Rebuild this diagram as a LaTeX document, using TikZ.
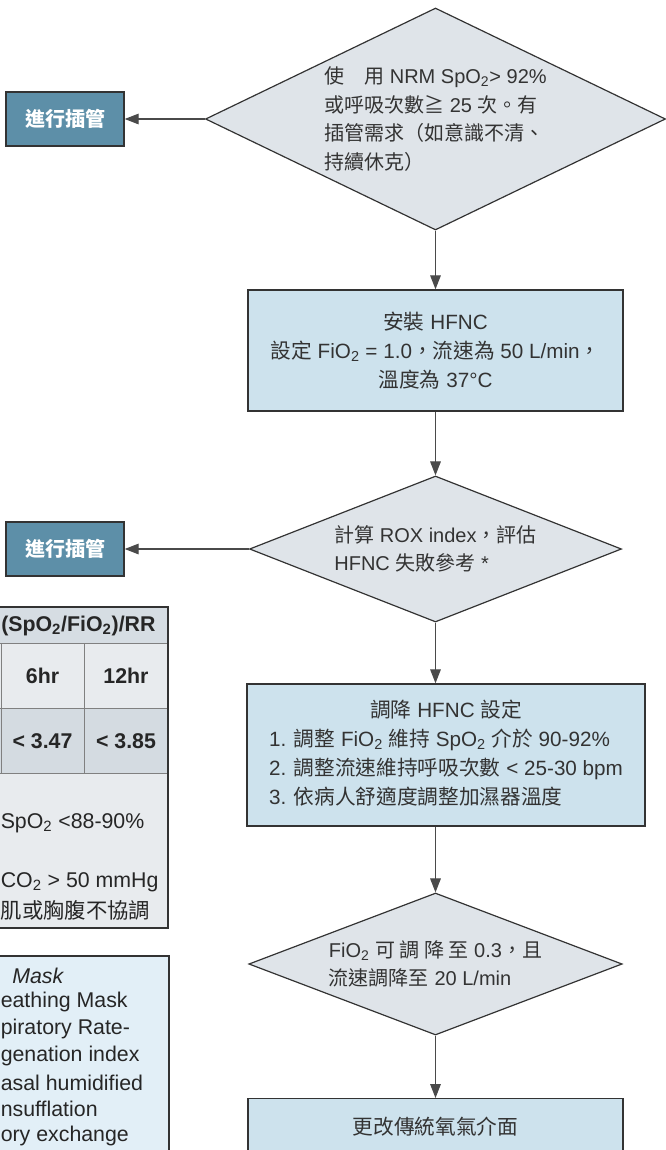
\documentclass[tikz,border=0pt]{standalone}
\usepackage{fontspec}
\setmainfont{Liberation Sans}
\newfontfamily\zhfont{Noto Sans CJK TC}
\newcommand{\zh}[1]{{\zhfont #1}}
\newcommand{\two}{\textsubscript{2}}
\usetikzlibrary{arrows.meta}
\usetikzlibrary{shapes.geometric}
\definecolor{ink}{HTML}{333333}
\definecolor{wire}{HTML}{4a4a4a}
\definecolor{decfill}{HTML}{DFE4E9}
\definecolor{actfill}{HTML}{CDE2ED}
\definecolor{tubefill}{HTML}{5D8FA8}
\definecolor{hdrfill}{HTML}{D6DDE3}
\definecolor{rowfill}{HTML}{E8EBEE}
\definecolor{valfill}{HTML}{D4DBE1}
\definecolor{notefill}{HTML}{E2EFF7}
\tikzset{tx/.style={font=\fontsize{15}{21.4}\selectfont, text=ink}}
\tikzset{tb/.style={font=\fontsize{16}{19}\selectfont\bfseries, text=black!85, inner sep=0pt}}
\tikzset{tn/.style={font=\fontsize{16}{19}\selectfont, text=black!85, inner sep=0pt}}
\tikzset{dec/.style={tx, diamond, draw=ink, line width=0.9pt, fill=decfill, inner sep=0pt, align=left}}
\tikzset{act/.style={tx, font=\fontsize{15.5}{21.8}\selectfont, rectangle, draw=ink, line width=1.1pt, fill=actfill, align=center}}
\tikzset{tube/.style={rectangle, draw=ink, line width=1.1pt, fill=tubefill, text=white, font=\fontsize{15}{18}\selectfont\bfseries, minimum width=88.5pt, minimum height=40.5pt}}
\tikzset{flow/.style={draw=wire, line width=0.8pt, -{Triangle[width=8pt,length=10.5pt]}}}

\begin{document}
\begin{tikzpicture}[x=0.75pt, y=-0.75pt]
\useasboundingbox (0,0) rectangle (665,1150);
% main column
\node[dec, aspect=2.07, minimum width=345pt, minimum height=166.5pt] (ask) at (435.5,119)
  {\zh{使　用} NRM SpO\two> 92\%\\\zh{或呼吸次數≧} 25 \zh{次。有}\\\zh{插管需求（如意識不清、}\\\zh{持續休克）}};
\node[tube] (tube1) at (65,119) {\zh{進行插管}};
\node[act, minimum width=281.25pt, minimum height=90.75pt] (hfnc) at (435.5,350.5)
  {\zh{安裝} HFNC\\\zh{設定} FiO\two{} = 1.0\zh{，流速為} 50 L/min\zh{，}\\\zh{溫度為} 37°C};
\node[dec, aspect=2.55, minimum width=279pt, minimum height=109.5pt] (rox) at (435.5,549)
  {\zh{計算} ROX index\zh{，評估}\\HFNC \zh{失敗參考} *};
\node[tube] (tube2) at (65,549) {\zh{進行插管}};
\node[act, minimum width=298.5pt, minimum height=106.5pt] (wean) at (446,755)
  {\begin{tabular}{@{}l@{}}
   \multicolumn{1}{@{}c@{}}{\zh{調降} HFNC \zh{設定}}\\
   1. \zh{調整} FiO\two{} \zh{維持} SpO\two{} \zh{介於} 90-92\%\\
   2. \zh{調整流速維持呼吸次數} < 25-30 bpm\\
   3. \zh{依病人舒適度調整加濕器溫度}
   \end{tabular}};
\node[dec, aspect=2.63, minimum width=280pt, minimum height=106.5pt] (fio) at (435.5,964)
  {FiO\two{} \zh{可 調 降 至} 0.3\zh{，且}\\\zh{流速調降至} 20 L/min};
\node[act, anchor=north, minimum width=281.25pt, text height=21pt, text depth=60pt, inner ysep=6pt] (conv) at (435.5,1098)
  {\zh{更改傳統氧氣介面}};

\draw[flow] (ask.west) -- (tube1.east);
\draw[flow] (ask.south) -- (hfnc.north);
\draw[flow] (hfnc.south) -- (rox.north);
\draw[flow] (rox.west) -- (tube2.east);
\draw[flow] (rox.south) -- (rox.south |- wean.north);
\draw[flow] (wean.south -| fio.north) -- (fio.north);
\draw[flow] (fio.south) -- (conv.north);

% ROX table (cut at the left edge)
\fill[hdrfill] (-20,607) rectangle (168,643);
\fill[rowfill] (-20,643) rectangle (168,708);
\fill[valfill] (-20,708) rectangle (168,773);
\fill[rowfill] (-20,773) rectangle (168,928);
\draw[black!50, line width=0.6pt] (-20,643) -- (168,643) (-20,708) -- (168,708) (-20,773) -- (168,773);
\draw[black!50, line width=0.6pt] (1,643) -- (1,773) (84,643) -- (84,773);
\draw[ink, line width=1pt] (-20,607) -- (168,607) -- (168,928) -- (-20,928);
\node[tb, anchor=west] (roxhead) at (1,626) {(SpO\two/FiO\two)/RR};
\node[tb] (h6) at (42.5,676) {6hr};
\node[tb] (h12) at (126,676) {12hr};
\node[tb] (v6) at (42.5,741) {< 3.47};
\node[tb] (v12) at (126,741) {< 3.85};
\node[tn, anchor=west] (cue1) at (0.5,823) {SpO\two{} <88-90\%};
\node[tn, anchor=west] (cue2) at (0.5,882) {CO\two{} > 50 mmHg};
\node[tn, anchor=west] (cue3) at (0.5,910) {\zh{肌或胸腹不協調}};

% abbreviations (cut at the left edge)
\draw[ink, line width=1pt, fill=notefill] (-20,956) rectangle (169,1180);
\node[tn, anchor=west] (ab0) at (12,976) {\itshape Mask};
\node[tn, anchor=west] (ab1) at (0.5,1002) {eathing Mask};
\node[tn, anchor=west] (ab2) at (0.5,1029) {piratory Rate-};
\node[tn, anchor=west] (ab3) at (0.5,1056) {genation index};
\node[tn, anchor=west] (ab4) at (0.5,1083) {asal humidified};
\node[tn, anchor=west] (ab5) at (0.5,1109) {nsufflation};
\node[tn, anchor=west] (ab6) at (0.5,1136) {ory exchange};
\end{tikzpicture}
\end{document}
